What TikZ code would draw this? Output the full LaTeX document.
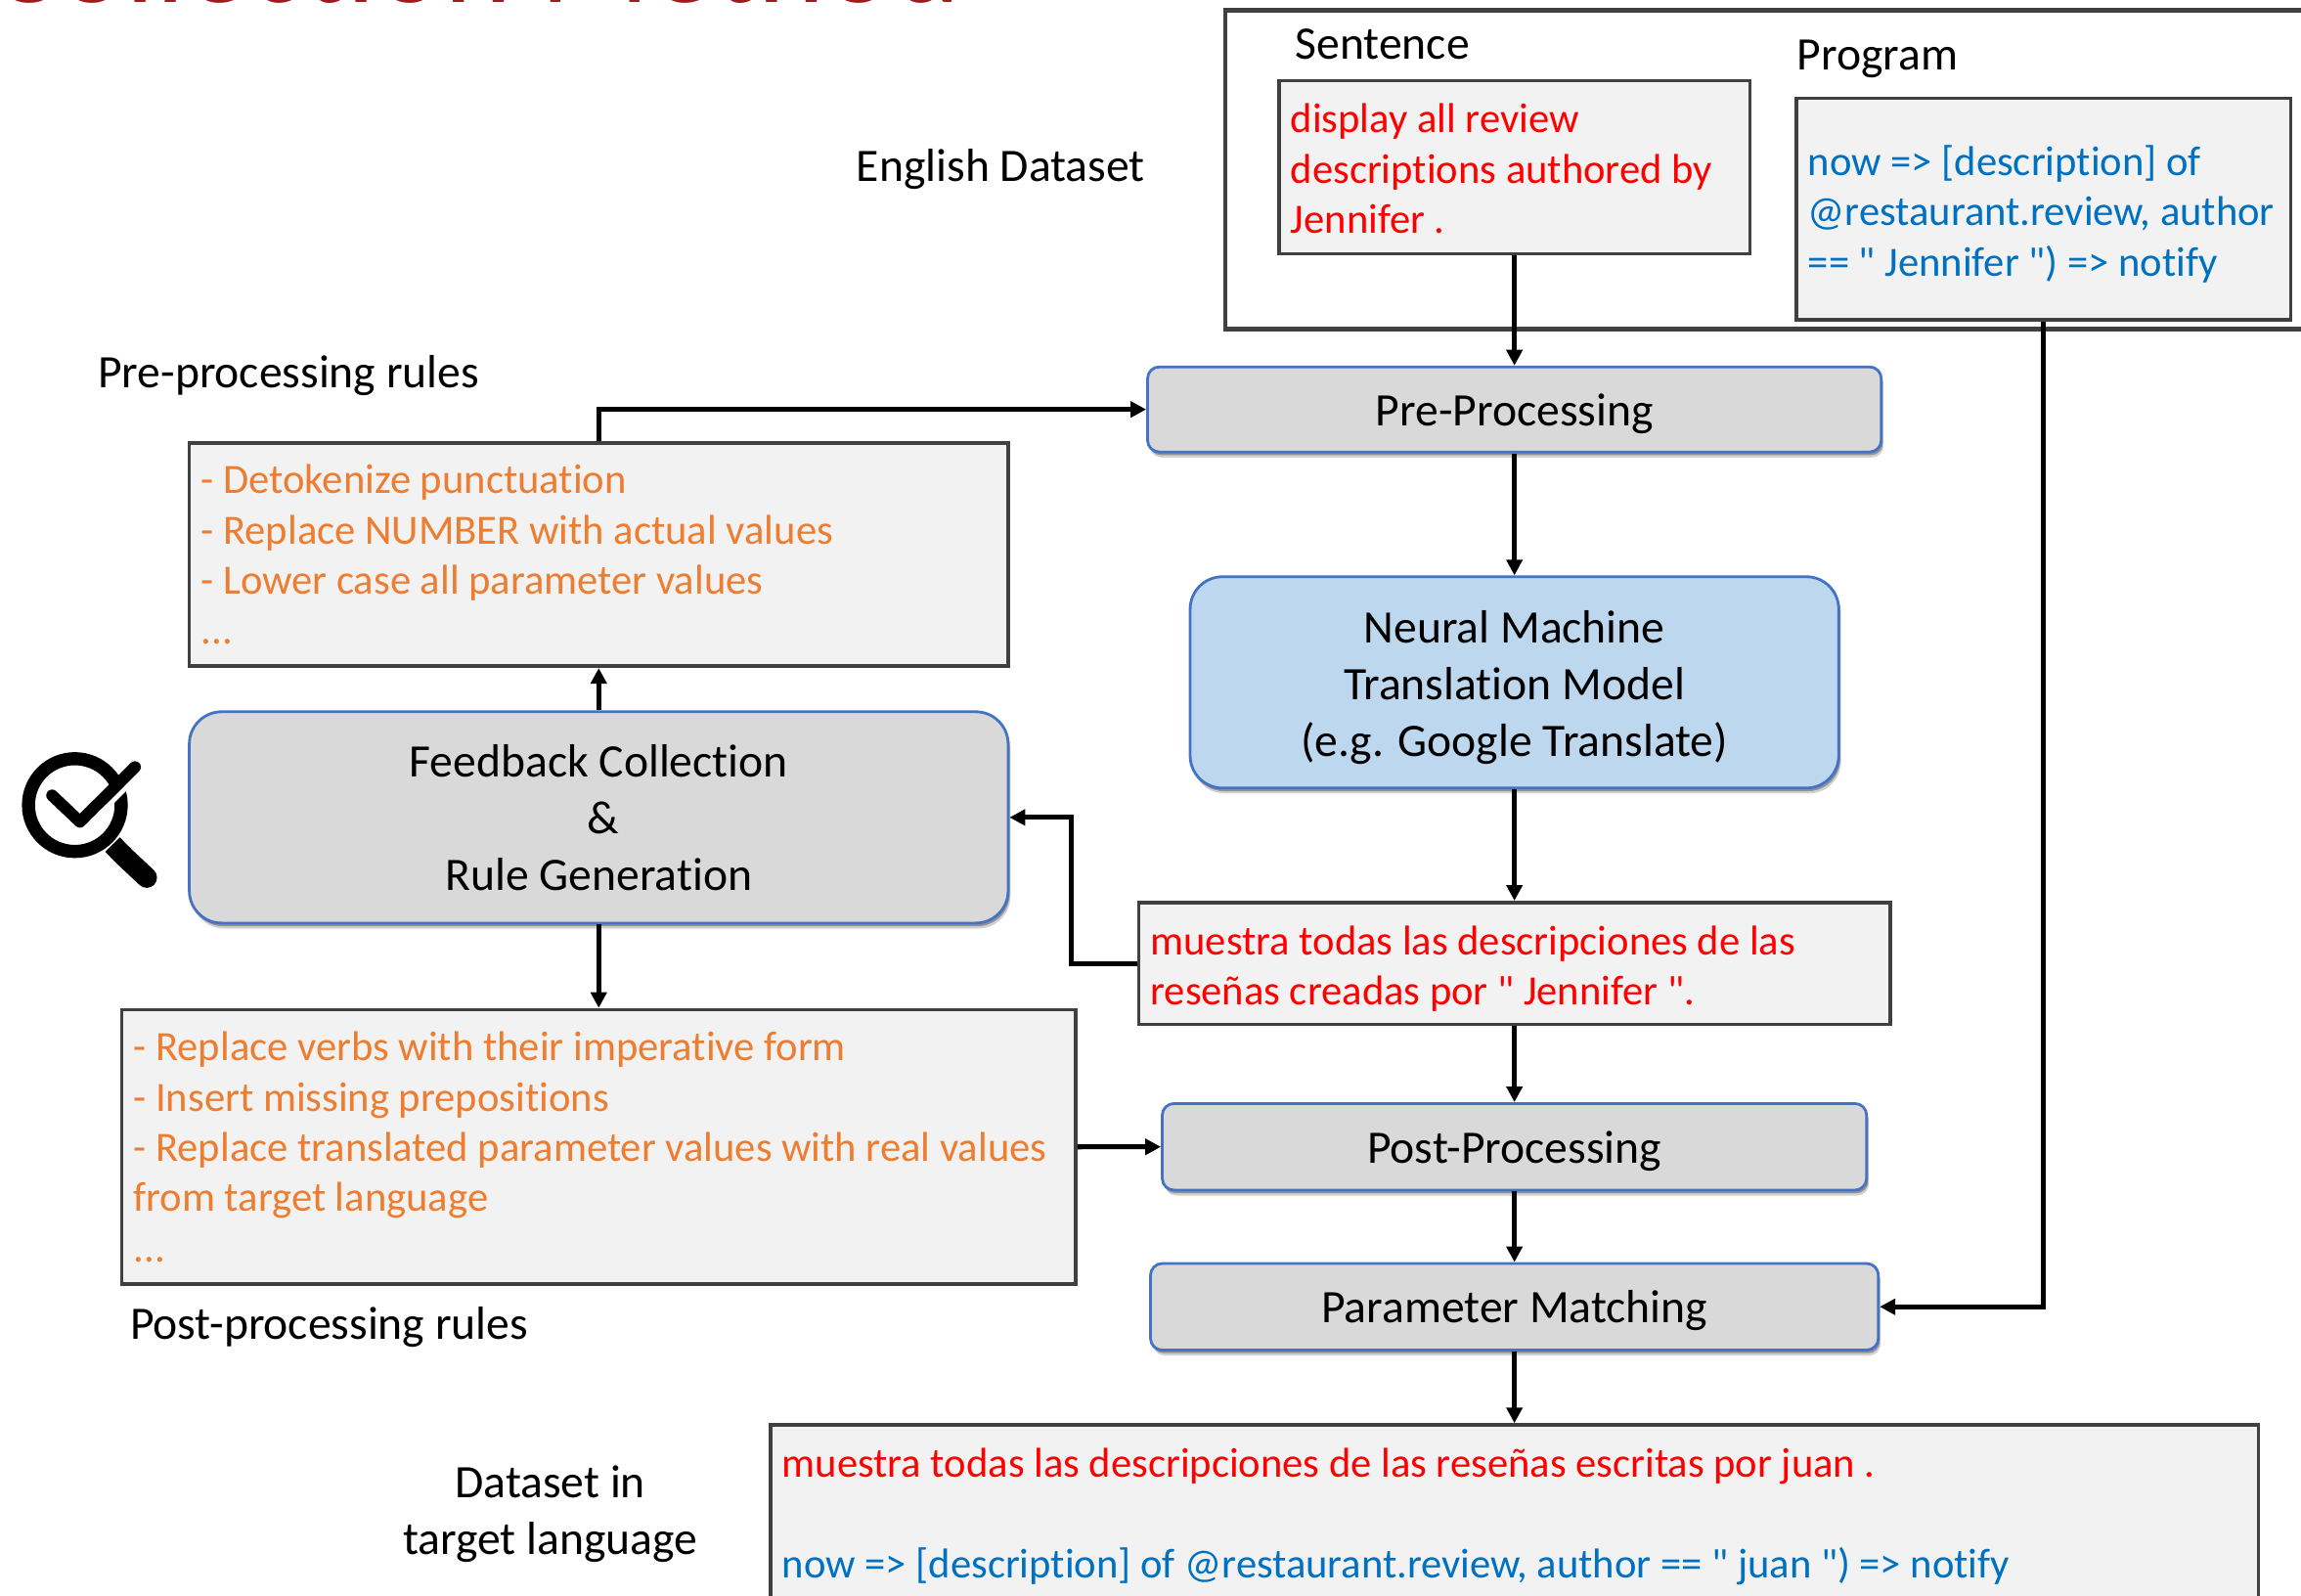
\documentclass[tikz,border=0pt]{standalone}
\usepackage{fontspec}
\setmainfont{Carlito}[Ligatures={TeXOff,NoCommon}]
\usetikzlibrary{arrows.meta, shadows}
\definecolor{boxgray}{HTML}{404040}
\definecolor{boxfill}{HTML}{F2F2F2}
\definecolor{stepfill}{HTML}{D9D9D9}
\definecolor{stepline}{HTML}{4472C4}
\definecolor{modelfill}{HTML}{BDD7EE}
\definecolor{progblue}{HTML}{0070C0}
\definecolor{ruleorange}{HTML}{ED7D31}
\definecolor{titlered}{HTML}{9E1B20}
\newcommand{\bigtext}{\fontsize{23.8}{29}\selectfont}
\newcommand{\smalltext}{\fontsize{21.3}{25.7}\selectfont}

\begin{document}
\begin{tikzpicture}[x=.75pt,y=-.75pt,>={Triangle[length=8pt,width=8pt]},
  label text/.style={font=\bigtext,align=center},
  first line/.style={execute at begin node={\rule{0pt}{#1}}},
  step node/.style={rectangle,rounded corners=6pt,draw=stepline,line width=1.4pt,fill=stepfill,
    drop shadow={shadow xshift=1.2pt,shadow yshift=-2.8pt,fill=black,opacity=.18},
    drop shadow={shadow xshift=.8pt,shadow yshift=-1.6pt,fill=black,opacity=.3},font=\bigtext,align=center},
  big node/.style={step node,rounded corners=16.5pt},
  text node/.style={rectangle,draw=boxgray,line width=1.8pt,fill=boxfill,inner xsep=6pt,inner ysep=0pt,
    font=\smalltext,align=flush left},
  flow arrow/.style={->,line width=2.5pt},
  icon line/.style={line width=6pt,line cap=round,line join=round}]
  \useasboundingbox (0,0) rectangle (1568,1087);
  \node[anchor=base east,text=titlered,inner sep=0pt,font=\fontsize{65.8}{68}\selectfont] (title) at (655,1.7) {Collection Method};
  \node[rectangle,draw=boxgray,line width=2.4pt,fill=white,minimum width=592.5pt,minimum height=162.75pt] (data) at (1230,115.5) {};
  \node[text node,text=red,text width=228.75pt,minimum height=88.5pt,first line=16.5pt] (sent) at (1032,114)
    {display all review\\descriptions authored by\\Jennifer .};
  \node[text node,text=progblue,text width=240.75pt,minimum height=113.25pt,first line=20.5pt] (prog) at (1392.5,142.5)
    {now => [description] of\\@restaurant.review, author\\== " Jennifer ") => notify};
  \node[step node,first line=20.5pt,minimum width=375pt,minimum height=43.5pt,below of=sent,node distance=123.75pt] (pre) {Pre-Processing};
  \node[big node,fill=modelfill,first line=22pt,text width=324.8pt,align=flush center,minimum height=108pt,below of=pre,node distance=139.5pt] (nmt)
    {Neural Machine\\Translation Model\\(e.g. Google Translate)};
  \node[text node,text=red,text width=372pt,minimum height=62.25pt,first line=20.5pt,below of=nmt,node distance=143.6pt] (out)
    {muestra todas las descripciones de las\\reseñas creadas por " Jennifer ".};
  \node[step node,first line=20.5pt,minimum width=360pt,minimum height=44.25pt,below of=out,node distance=93.75pt] (post) {Post-Processing};
  \node[step node,first line=20.5pt,minimum width=372pt,minimum height=44.25pt,below of=post,node distance=81.75pt] (param) {Parameter Matching};
  \node[text node,text width=748.5pt,minimum height=90.75pt,first line=18pt,below of=param,node distance=105.75pt] (target)
    {\textcolor{red}{muestra todas las descripciones de las reseñas escritas por juan .}\\[25.7pt]
     \textcolor{progblue}{now => [description] of @restaurant.review, author == " juan ") => notify}};
  \node[big node,minimum width=418.5pt,minimum height=108pt] (feed) at (408,557)
    {Feedback Collection\\\hspace*{4.5pt}\&\\Rule Generation};
  \node[text node,text=ruleorange,text width=406.5pt,minimum height=114pt,above of=feed,node distance=134.25pt] (rules1)
    {- Detokenize punctuation\\- Replace NUMBER with actual values\\- Lower case all parameter values\\...};
  \node[text node,text=ruleorange,text width=475.5pt,minimum height=140.25pt,below of=feed,node distance=168.4pt] (rules2)
    {- Replace verbs with their imperative form\\- Insert missing prepositions\\- Replace translated parameter values with real values\\from target language\\...};
  \node[label text,anchor=west] (english) at (579,115) {English Dataset};
  \node[label text,anchor=west] (sentlabel) at (878,30) {Sentence};
  \node[label text,anchor=west] (proglabel) at (1220,40) {Program};
  \node[label text,anchor=west] (prelabel) at (62,256) {Pre-processing rules};
  \node[label text,anchor=west] (postlabel) at (84,904) {Post-processing rules};
  \node[label text] (targetlabel) at (375,1032) {Dataset in\\target language};
  \path[flow arrow]
    (sent) edge (pre)
    (pre) edge (nmt)
    (nmt) edge (out)
    (out) edge (post)
    (post) edge (param)
    (param) edge (target)
    (feed) edge (rules1)
    (feed) edge (rules2);
  \draw[flow arrow] (rules1.north) |- (pre.west);
  \draw[flow arrow] (out.west) -- ++(-33.75pt,0) |- (feed.east);
  \draw[flow arrow] (rules2) -- (post);
  \draw[flow arrow] (prog.south) |- (param.east);
  \draw[line width=6.7pt] (51,548.6) circle (31.6);
  \draw[white,line width=2.5pt] (58.5,564) -- (96,526.7);
  \draw[icon line] (35.5,542) -- (54.5,560) -- (92,522.7);
  \draw[line width=10.5pt,line cap=round] (84,583) -- (100,598);
  \draw[line width=10.5pt] (76.7,575.5) -- (84,583);
\end{tikzpicture}
\end{document}
